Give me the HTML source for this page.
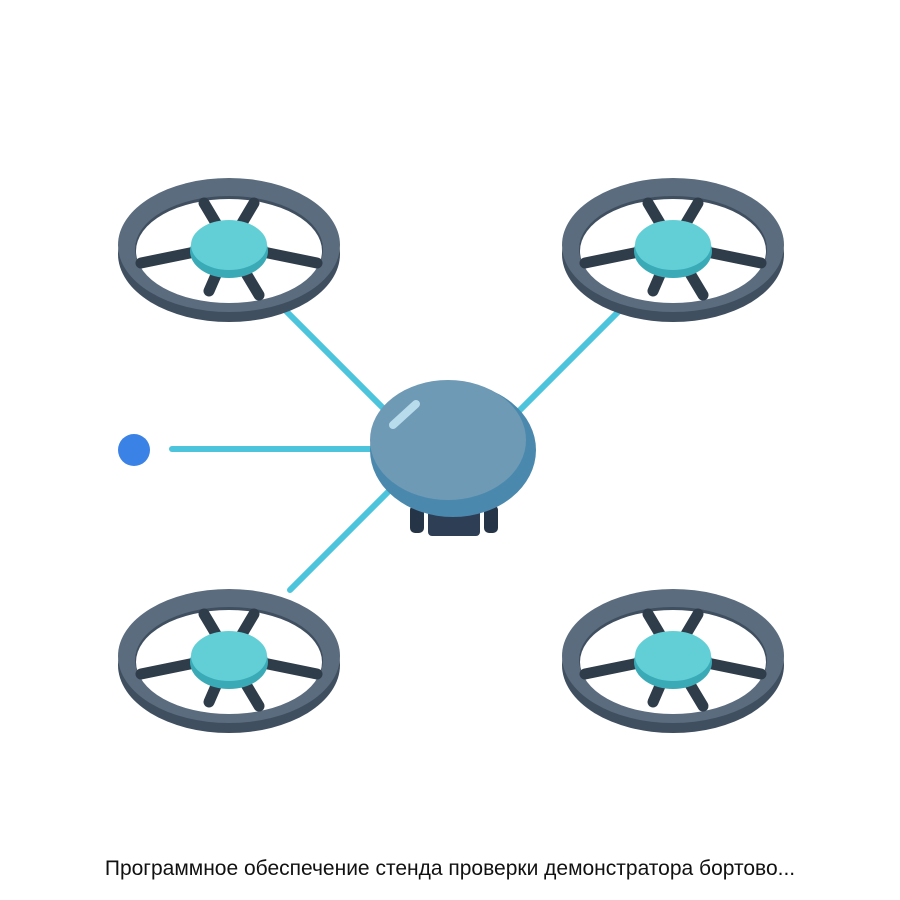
<!DOCTYPE html>
<html><head><meta charset="utf-8"><style>
html,body{margin:0;padding:0;background:#fff;width:900px;height:900px;overflow:hidden}
.t{position:absolute;top:857px;left:0;width:900px;text-align:center;font-family:"Liberation Sans",sans-serif;font-size:21px;color:#111}
</style></head><body>
<svg width="900" height="900" viewBox="0 0 900 900" style="position:absolute;left:0;top:0">
<defs>
<g id="rotor">
  <ellipse cx="0" cy="9" rx="111" ry="68" fill="#3f4f60"/>
  <ellipse cx="0" cy="0" rx="111" ry="67" fill="#5b6c7e"/>
  <ellipse cx="0" cy="4" rx="94" ry="53" fill="#3f4f60"/>
  <ellipse cx="0" cy="6" rx="93" ry="52" fill="#fff"/>
  <g stroke="#2f3c4a" stroke-width="11" stroke-linecap="round">
    <line x1="0" y1="0" x2="-88" y2="18"/>
    <line x1="0" y1="0" x2="88" y2="18"/>
    <line x1="0" y1="0" x2="-25" y2="-42"/>
    <line x1="0" y1="0" x2="25" y2="-42"/>
    <line x1="0" y1="0" x2="30" y2="50"/>
    <line x1="0" y1="0" x2="-20" y2="46"/>
  </g>
  <ellipse cx="0" cy="6" rx="39" ry="27" fill="#3aaab6"/>
  <ellipse cx="0" cy="0" rx="38" ry="25" fill="#62cfd6"/>
</g>
</defs>
<g stroke="#4bc4dc" stroke-width="6" stroke-linecap="round">
  <line x1="285" y1="310" x2="390" y2="415"/>
  <line x1="620" y1="310" x2="515" y2="415"/>
  <line x1="172" y1="449" x2="380" y2="449"/>
  <line x1="290" y1="590" x2="395" y2="485"/>
</g>
<circle cx="134" cy="450" r="16" fill="#3b82e6"/>
<use href="#rotor" x="229" y="245"/>
<use href="#rotor" x="673" y="245"/>
<use href="#rotor" x="229" y="656"/>
<use href="#rotor" x="673" y="656"/>
<rect x="410" y="505" width="14" height="28" rx="5" fill="#253447"/>
<rect x="484" y="505" width="14" height="28" rx="5" fill="#253447"/>
<rect x="428" y="508" width="52" height="28" rx="4" fill="#2e3f55"/>
<ellipse cx="453" cy="450" rx="83" ry="67" fill="#4a89ad"/>
<ellipse cx="448" cy="440" rx="78" ry="60" fill="#6e9ab5"/>
<line x1="393" y1="425" x2="416" y2="404" stroke="#b9dcec" stroke-width="8" stroke-linecap="round"/>
</svg>
<div class="t">Программное обеспечение стенда проверки демонстратора бортово...</div>
</body></html>
